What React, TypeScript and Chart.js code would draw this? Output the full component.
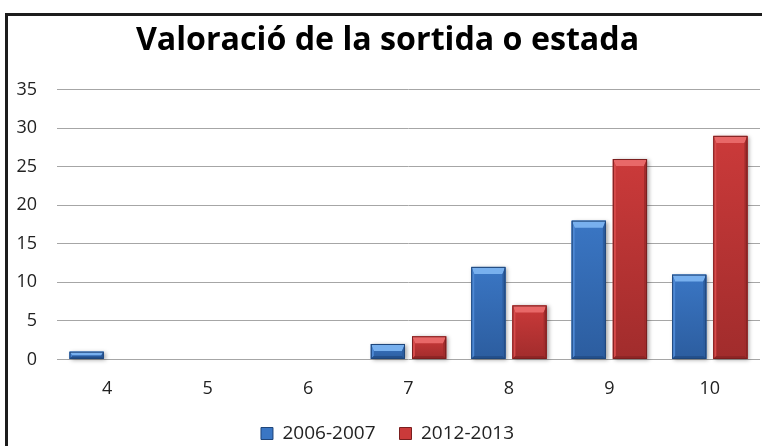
import React, { useEffect, useRef } from "react";
import { Chart, registerables } from "chart.js";

Chart.register(...registerables);

const TITLE = "Valoració de la sortida o estada";
const categories = ["4", "5", "6", "7", "8", "9", "10"];
const seriesNames = ["2006-2007", "2012-2013"];
const values2006 = [1, 0, 0, 2, 12, 18, 11];
const values2012 = [0, 0, 0, 3, 7, 26, 29];
const yMin = 0;
const yMax = 35;
const yStep = 5;

const FONT = "'Open Sans', 'DejaVu Sans', sans-serif";
const TITLE_TARGET_WIDTH = 504;

const palettes = [
  { base: "#3a76c4", top: "#78b0ee", left: "#4d88d4", right: "#2c5d9f", bottom: "#24508c", edge: "#1f4579" },
  { base: "#cb3a3a", top: "#e86868", left: "#d64a4a", right: "#a12c2c", bottom: "#8f2626", edge: "#7a1f1f" },
];

function poly(ctx: CanvasRenderingContext2D, pts: number[][], color: string) {
  ctx.beginPath();
  ctx.moveTo(pts[0][0], pts[0][1]);
  for (let i = 1; i < pts.length; i++) ctx.lineTo(pts[i][0], pts[i][1]);
  ctx.closePath();
  ctx.fillStyle = color;
  ctx.fill();
}

const bevelPlugin = {
  id: "bevelBars",
  afterDatasetsDraw(chart: any) {
    const ctx: CanvasRenderingContext2D = chart.ctx;
    chart.data.datasets.forEach((_ds: any, di: number) => {
      const meta = chart.getDatasetMeta(di);
      const p = palettes[di];
      meta.data.forEach((el: any) => {
        const { x, y, base, width } = el.getProps(["x", "y", "base", "width"], true);
        const l = x - width / 2;
        const r = x + width / 2;
        const t = Math.min(y, base);
        const b = Math.max(y, base);
        const h = b - t;
        if (h < 0.5) return;
        const bv = Math.min(7, h / 2);
        const sv = Math.min(3, h / 3);
        ctx.save();
        ctx.shadowColor = "rgba(0,0,0,0.35)";
        ctx.shadowBlur = 4;
        ctx.shadowOffsetX = 2;
        ctx.shadowOffsetY = 1;
        ctx.fillStyle = p.base;
        ctx.fillRect(l, t, width, h);
        ctx.restore();
        ctx.save();
        const g = ctx.createLinearGradient(0, t, 0, b);
        g.addColorStop(0, p.base);
        g.addColorStop(1, p.right);
        ctx.fillStyle = g;
        ctx.fillRect(l, t, width, h);
        poly(ctx, [[l, t], [r, t], [r - sv, t + bv], [l + sv, t + bv]], p.top);
        poly(ctx, [[l, t], [l + sv, t + bv], [l + sv, b - sv], [l, b]], p.left);
        poly(ctx, [[r, t], [r - sv, t + bv], [r - sv, b - sv], [r, b]], p.right);
        poly(ctx, [[l, b], [l + sv, b - sv], [r - sv, b - sv], [r, b]], p.bottom);
        ctx.strokeStyle = p.edge;
        ctx.lineWidth = 1;
        ctx.strokeRect(l + 0.5, t + 0.5, width - 1, h - 1);
        ctx.restore();
      });
    });
  },
};

export default function App() {
  const ref = useRef<HTMLCanvasElement | null>(null);

  useEffect(() => {
    if (!ref.current) return;
    const m = document.createElement("canvas").getContext("2d")!;
    m.font = `bold 100px ${FONT}`;
    const w100 = m.measureText(TITLE).width || 1;
    const titleSize = Math.round(((100 * TITLE_TARGET_WIDTH) / w100) * 10) / 10;

    const chart = new Chart(ref.current, {
      type: "bar",
      data: {
        labels: categories,
        datasets: [
          {
            label: seriesNames[0],
            data: values2006,
            backgroundColor: palettes[0].base,
            borderColor: palettes[0].edge,
            borderWidth: 1,
            categoryPercentage: 0.82,
            barPercentage: 0.83,
          },
          {
            label: seriesNames[1],
            data: values2012,
            backgroundColor: palettes[1].base,
            borderColor: palettes[1].edge,
            borderWidth: 1,
            categoryPercentage: 0.82,
            barPercentage: 0.83,
          },
        ],
      },
      options: {
        animation: false,
        responsive: false,
        maintainAspectRatio: false,
        layout: { padding: { left: 15, right: 2, top: 0, bottom: -7 } },
        plugins: {
          title: {
            display: true,
            text: TITLE,
            color: "#000",
            font: { family: FONT, size: titleSize, weight: "bold", lineHeight: 1.2 },
            padding: { top: 22, bottom: 29 },
          },
          legend: {
            display: true,
            position: "bottom",
            labels: {
              color: "#222",
              font: { family: FONT, size: 19 },
              boxWidth: 12,
              boxHeight: 12,
              padding: 24,
            },
          },
          tooltip: { enabled: false },
        },
        scales: {
          x: {
            grid: { display: false },
            border: { display: false },
            ticks: { color: "#222", font: { family: FONT, size: 18 }, padding: 11 },
            afterFit: (scale: any) => {
              scale.height = 40.6;
            },
          },
          y: {
            min: yMin,
            max: yMax,
            grid: { color: "#a6a6a6", lineWidth: 1, drawTicks: false },
            border: { display: false },
            ticks: { stepSize: yStep, color: "#222", font: { family: FONT, size: 18 }, padding: 20 },
            afterFit: (scale: any) => {
              scale.width = 42;
            },
          },
        },
      },
      plugins: [bevelPlugin],
    });
    return () => chart.destroy();
  }, []);

  return (
    <div
      style={{
        position: "fixed",
        left: 0,
        top: 0,
        width: 762,
        height: 446,
        overflow: "hidden",
        background: "#fff",
      }}
    >
      <div
        style={{
          position: "absolute",
          left: 5,
          top: 13,
          width: 800,
          height: 500,
          borderLeft: "3px solid #1c1c1c",
          borderTop: "3px solid #1c1c1c",
          boxSizing: "border-box",
        }}
      />
      <canvas
        ref={ref}
        width={762}
        height={446}
        style={{ position: "absolute", left: 0, top: 0, width: 762, height: 446 }}
      />
    </div>
  );
}
